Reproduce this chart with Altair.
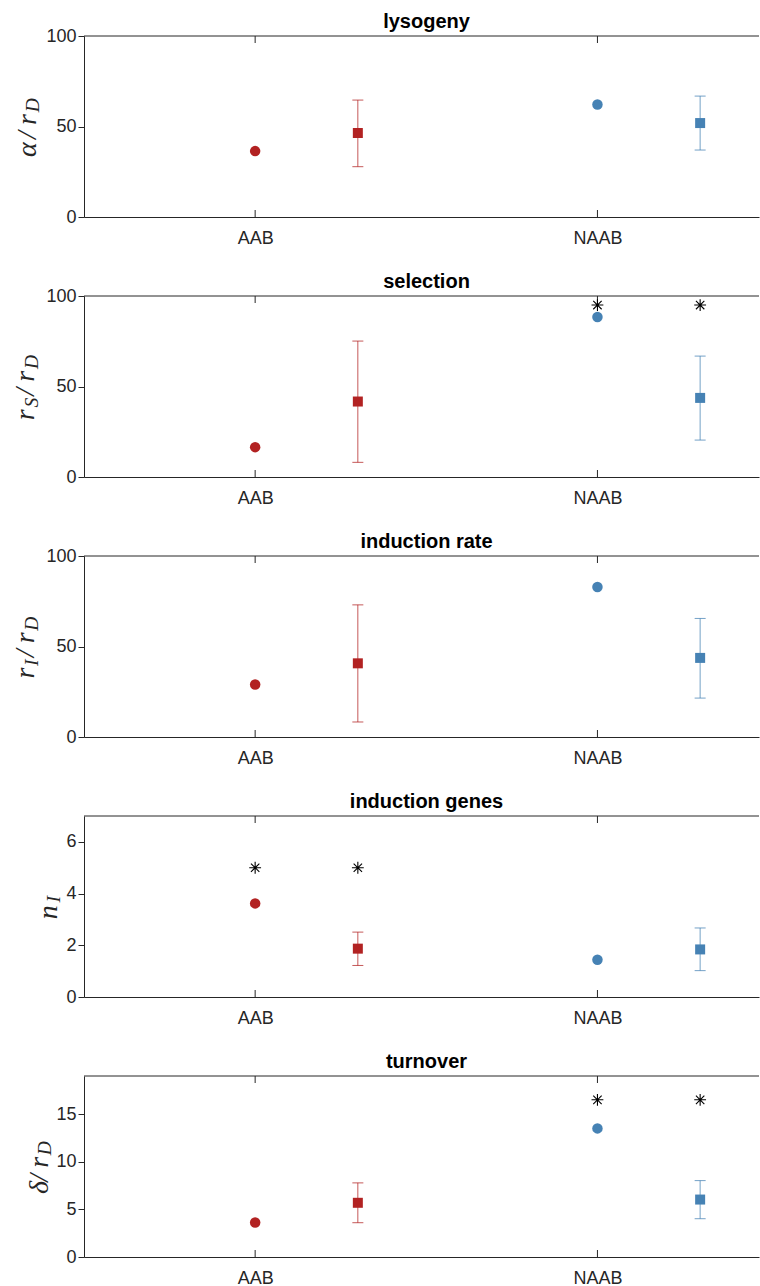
import altair as alt
import pandas as pd

# ---------------- data ----------------
titles = ["lysogeny", "selection", "induction rate", "induction genes", "turnover"]
groups = ["AAB", "NAAB"]
group_pos = [1, 2]
model_shift = 0.3  # square (model) marker sits right of the group

circ_aab = [36.4, 16.5, 29.0, 3.62, 3.63]
circ_naab = [62.2, 88.4, 82.9, 1.44, 13.5]
sq_aab = [46.4, 41.7, 40.7, 1.87, 5.69]
sq_aab_lo = [27.8, 8.1, 8.3, 1.22, 3.6]
sq_aab_hi = [64.6, 75.1, 73.0, 2.51, 7.78]
sq_naab = [51.9, 43.7, 43.7, 1.84, 6.03]
sq_naab_lo = [37.0, 20.4, 21.5, 1.02, 4.02]
sq_naab_hi = [66.8, 66.8, 65.5, 2.67, 8.02]

# significance stars
star_panel = [1, 1, 3, 3, 4, 4]
star_group = ["NAAB", "NAAB", "AAB", "AAB", "NAAB", "NAAB"]
star_kind = ["circle", "square", "circle", "square", "circle", "square"]
star_value = [95, 95, 5, 5, 16.5, 16.5]

y_max = [100, 100, 100, 7, 19]
y_ticks = [[0, 50, 100], [0, 50, 100], [0, 50, 100], [0, 2, 4, 6], [0, 5, 10, 15]]
# y-axis labels as (glyph, is_subscript)
y_labels = [
    [("α", 0), ("/", 0), ("r", 0), ("D", 1)],
    [("r", 0), ("S", 1), ("/", 0), ("r", 0), ("D", 1)],
    [("r", 0), ("I", 1), ("/", 0), ("r", 0), ("D", 1)],
    [("n", 0), ("I", 1)],
    [("δ", 0), ("/", 0), ("r", 0), ("D", 1)],
]

# ---------------- style ----------------
W = 675
H = 181
UNIT = 342.3
XDOM = [0.5, 0.5 + W / UNIT]
RED = "#B22222"
BLUE = "#4682B4"
AX = "#262626"
SANS = "Liberation Sans"
SERIF = "Liberation Serif"
MAIN_FS = 28
SUB_FS = 19.6
GLYPH_EM = {"α": 0.64, "/": 0.5, "r": 0.45, "D": 0.83, "S": 0.61, "I": 0.44, "n": 0.6, "δ": 0.44}
label_x = [-48.5, -50, -50, -27.5, -36.5]
STAR = "M-1,0L1,0M0,-1L0,1M-0.71,-0.71L0.71,0.71M-0.71,0.71L0.71,-0.71"

label_expr = " : ".join(
    [f"datum.value == {p} ? '{g}'" for p, g in zip(group_pos[:-1], groups[:-1])] + [f"'{groups[-1]}'"]
)


def panel(i):
    xs = alt.Scale(domain=XDOM, nice=False, zero=False)
    ys = alt.Scale(domain=[0, y_max[i]], nice=False, zero=False)
    xax = alt.Axis(values=group_pos, labelExpr=label_expr, title=None, grid=False,
                   ticks=False, tickSize=0, labelPadding=12, labelFontSize=18, labelFont=SANS,
                   labelColor=AX, domainColor=AX, labelAngle=0)
    yax = alt.Axis(values=y_ticks[i], title=None, grid=False, tickSize=6, tickColor=AX,
                   domainColor=AX, labelPadding=2, labelFontSize=18, labelFont=SANS,
                   labelColor=AX)

    def X(f):
        return alt.X(f, type="quantitative", scale=xs, axis=xax)

    def Y(f):
        return alt.Y(f, type="quantitative", scale=ys, axis=yax)

    C = alt.Color("grp:N", scale=alt.Scale(domain=groups, range=[RED, BLUE]), legend=None)

    circ = pd.DataFrame({"x": group_pos, "y": [circ_aab[i], circ_naab[i]], "grp": groups})
    sq = pd.DataFrame({
        "x": [p + model_shift for p in group_pos],
        "y": [sq_aab[i], sq_naab[i]],
        "lo": [sq_aab_lo[i], sq_naab_lo[i]],
        "hi": [sq_aab_hi[i], sq_naab_hi[i]],
        "grp": groups,
    })
    st_rows = []
    for p, g, k, v in zip(star_panel, star_group, star_kind, star_value):
        if p == i:
            base = group_pos[groups.index(g)]
            st_rows.append({"x": base + (model_shift if k == "square" else 0), "y": v})
    stars = pd.DataFrame(st_rows, columns=["x", "y"])
    cats = pd.DataFrame({"x": group_pos})

    layers = []
    layers.append(alt.Chart(alt.Data(values=[{}])).mark_rule(color=AX, strokeWidth=1).encode(
        x=alt.value(0), x2=alt.value(W), y=alt.value(0)))
    layers.append(alt.Chart(cats).mark_rule(color=AX, strokeWidth=1).encode(
        x=X("x"), y=alt.value(0), y2=alt.value(7)))
    layers.append(alt.Chart(cats).mark_rule(color=AX, strokeWidth=1).encode(
        x=X("x"), y=alt.value(H), y2=alt.value(H - 7)))
    layers.append(alt.Chart(sq).mark_rule(strokeWidth=1, opacity=0.75).encode(
        x=X("x"), y=Y("lo"), y2="hi", color=C))
    layers.append(alt.Chart(sq).mark_tick(orient="horizontal", size=11, thickness=1, opacity=0.75).encode(
        x=X("x"), y=Y("lo"), color=C))
    layers.append(alt.Chart(sq).mark_tick(orient="horizontal", size=11, thickness=1, opacity=0.75).encode(
        x=X("x"), y=Y("hi"), color=C))
    layers.append(alt.Chart(sq).mark_point(shape="square", filled=True, size=100, opacity=1).encode(
        x=X("x"), y=Y("y"), color=C))
    layers.append(alt.Chart(circ).mark_point(shape="circle", filled=True, size=110, opacity=1).encode(
        x=X("x"), y=Y("y"), color=C))
    if len(stars):
        layers.append(alt.Chart(stars).mark_point(shape=STAR, filled=False, size=140, color="black",
                                                   strokeWidth=1.1, opacity=1).encode(
            x=X("x"), y=Y("y")))

    # panel title
    layers.append(alt.Chart(alt.Data(values=[{}])).mark_text(
        text=titles[i], fontSize=20, fontWeight="bold", font=SANS, color="black",
        align="center", baseline="alphabetic").encode(
        x=alt.value(W / 2 + 5), y=alt.value(-8)))

    # y label, glyph by glyph
    pieces = y_labels[i]
    widths = [GLYPH_EM[c] * (SUB_FS if s else MAIN_FS) for c, s in pieces]
    total = sum(widths)
    pos = H / 2 + total / 2
    for (c, s), w in zip(pieces, widths):
        layers.append(alt.Chart(alt.Data(values=[{}])).mark_text(
            text=c, angle=270, align="left", baseline="alphabetic", font=SERIF,
            fontStyle="italic", fontSize=SUB_FS if s else MAIN_FS, color=AX).encode(
            x=alt.value(label_x[i] + (3.5 if s else 0)), y=alt.value(pos)))
        pos -= w

    if i == 0:
        layers.append(alt.Chart(alt.Data(values=[{}])).mark_rule(color="white", strokeWidth=1).encode(
            x=alt.value(-83), x2=alt.value(-82.5), y=alt.value(-35)))

    return alt.layer(*layers).properties(width=W, height=H)


chart = alt.vconcat(*[panel(i) for i in range(5)], spacing=79, bounds="flush").configure_view(
    stroke=None).properties(padding=0)

chart.save("out.html", embed_options={"renderer": "svg", "actions": False})
